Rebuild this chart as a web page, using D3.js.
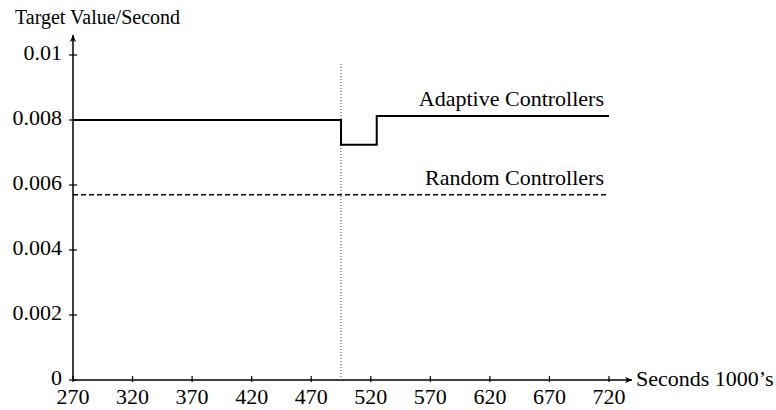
<!DOCTYPE html>
<html>
<head>
<meta charset="utf-8">
<script src="https://cdn.jsdelivr.net/npm/d3@7"></script>
<style>
  html, body { margin: 0; padding: 0; background: #fff; }
  svg { display: block; }
  text { font-family: "Liberation Serif", "DejaVu Serif", serif; fill: #000; }
</style>
</head>
<body>
<svg id="chart" width="776" height="410"></svg>
<script>
// ---- data ----
const xTicks = [270, 320, 370, 420, 470, 520, 570, 620, 670, 720];
const yTicks = [0, 0.002, 0.004, 0.006, 0.008, 0.01];
const yTickLabels = ["0", "0.002", "0.004", "0.006", "0.008", "0.01"];
const adaptiveTimes = [270, 495, 525, 720];
const adaptiveValues = [0.00800, 0.00724, 0.00812, 0.00812];
const randomTimes = [270, 720];
const randomValues = [0.00570, 0.00570];
const eventTime = [495];
const seriesLabels = ["Adaptive Controllers", "Random Controllers"];
const axisTitles = ["Target Value/Second", "Seconds 1000\u2019s"];

// ---- layout ----
const svg = d3.select("#chart");
const x = d3.scaleLinear().domain([270, 720]).range([73, 609]);
const y = d3.scaleLinear().domain([0, 0.01]).range([380, 55]);
const fs = 22;

svg.append("defs").append("marker")
  .attr("id", "arrow").attr("viewBox", "0 0 10 10")
  .attr("refX", 10).attr("refY", 5)
  .attr("markerWidth", 11).attr("markerHeight", 7)
  .attr("markerUnits", "userSpaceOnUse")
  .attr("orient", "auto")
  .append("path").attr("d", "M0,0.5 L10,5 L0,9.5 L3,5 Z").attr("fill", "#000");

// axes lines with arrows
svg.append("line")
  .attr("x1", x(270)).attr("y1", y(0)).attr("x2", x(270)).attr("y2", 35)
  .attr("stroke", "#000").attr("stroke-width", 1.5).attr("marker-end", "url(#arrow)");
svg.append("line")
  .attr("x1", x(270)).attr("y1", y(0)).attr("x2", 632).attr("y2", y(0))
  .attr("stroke", "#000").attr("stroke-width", 1.5).attr("marker-end", "url(#arrow)");

// y ticks
const yt = svg.append("g");
yt.selectAll("line").data(yTicks).join("line")
  .attr("x1", x(270) - 4).attr("x2", x(270) + 4)
  .attr("y1", d => y(d)).attr("y2", d => y(d))
  .attr("stroke", "#000").attr("stroke-width", 1.2);
yt.selectAll("text").data(yTicks).join("text")
  .attr("x", 62).attr("y", d => y(d) + 5)
  .attr("text-anchor", "end").attr("font-size", fs)
  .text((d, i) => yTickLabels[i]);

// x ticks
const xt = svg.append("g");
xt.selectAll("line").data(xTicks).join("line")
  .attr("x1", d => x(d)).attr("x2", d => x(d))
  .attr("y1", y(0) - 4).attr("y2", y(0) + 2)
  .attr("stroke", "#000").attr("stroke-width", 1.2);
xt.selectAll("text").data(xTicks).join("text")
  .attr("x", d => x(d)).attr("y", y(0) + 24)
  .attr("text-anchor", "middle").attr("font-size", fs)
  .text(d => d);

// axis titles
svg.append("text").attr("x", 15).attr("y", 24).attr("font-size", 20).text(axisTitles[0]);
svg.append("text").attr("x", 636).attr("y", y(0) + 6).attr("font-size", fs).text(axisTitles[1]);

// event line
svg.selectAll(".event").data(eventTime).join("line")
  .attr("class", "event")
  .attr("x1", d => x(d)).attr("x2", d => x(d))
  .attr("y1", y(0)).attr("y2", 64)
  .attr("stroke", "#444").attr("stroke-width", 1).attr("stroke-dasharray", "1,2");

// series
const adaptive = adaptiveTimes.map((t, i) => [t, adaptiveValues[i]]);
const random = randomTimes.map((t, i) => [t, randomValues[i]]);
const line = d3.line().x(d => x(d[0])).y(d => y(d[1])).curve(d3.curveStepAfter);

svg.append("path").datum(adaptive).attr("d", line)
  .attr("fill", "none").attr("stroke", "#000").attr("stroke-width", 2);
svg.append("path").datum(random).attr("d", line)
  .attr("fill", "none").attr("stroke", "#000").attr("stroke-width", 1.4)
  .attr("stroke-dasharray", "5,3");

// labels
svg.append("text").attr("x", 604).attr("y", y(adaptiveValues[3]) - 10)
  .attr("text-anchor", "end").attr("font-size", fs).text(seriesLabels[0]);
svg.append("text").attr("x", 604).attr("y", y(randomValues[1]) - 10)
  .attr("text-anchor", "end").attr("font-size", fs).text(seriesLabels[1]);
</script>
</body>
</html>
